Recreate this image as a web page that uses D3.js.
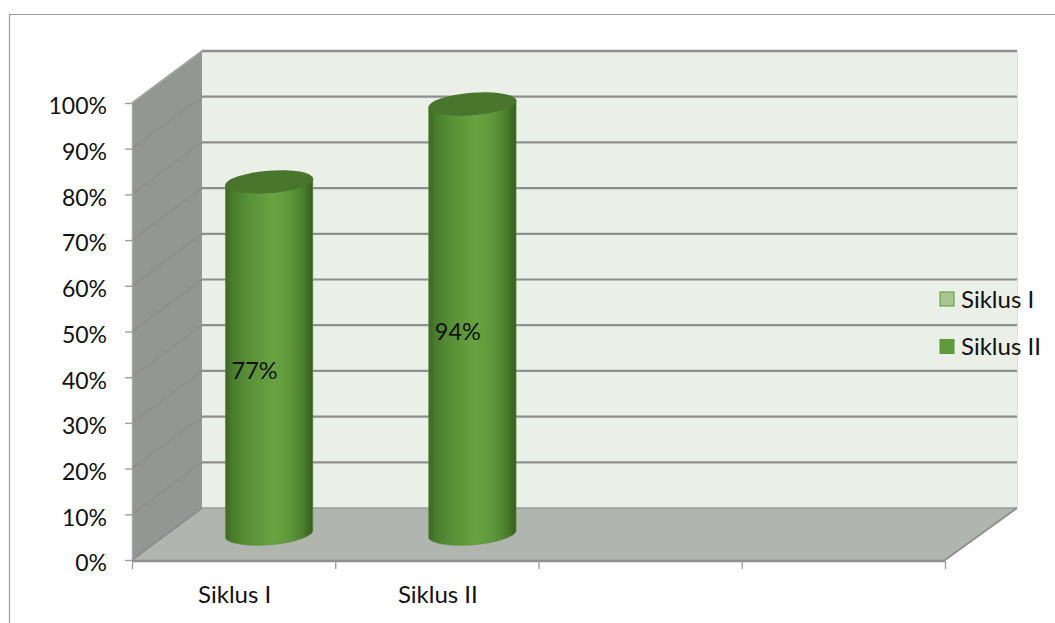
<!DOCTYPE html>
<html><head><meta charset="utf-8">
<script src="https://cdn.jsdelivr.net/npm/d3@7/dist/d3.min.js"></script>
<style>html,body{margin:0;padding:0;background:#fff}svg{display:block}text{font-family:Lato,"Open Sans",sans-serif;fill:#111}</style>
</head><body><svg id="c" width="1055" height="623"></svg>
<script>
const categories = ["Siklus I", "Siklus II", "", ""];
const seriesNames = ["Siklus I", "Siklus II"];
const barCategories = ["Siklus I", "Siklus II"];
const barValues = [77, 94];
const barLabels = ["77%", "94%"];
const yTicks = [0,10,20,30,40,50,60,70,80,90,100];

const svg = d3.select("#c");
const W = {x0:132, x1:945, y0:560, y1:103, dx:70, dy:-52};
const y = d3.scaleLinear().domain([0,100]).range([W.y0, W.y1]);
const x = d3.scaleBand().domain(d3.range(categories.length)).range([W.x0, W.x1]);
const yBar = d3.scaleLinear().domain([0,100]).range([W.y0 + W.dy/2 + 1, W.y1 + W.dy/2 - 0.5]);
const poly = p => "M" + p.map(q => q.join(",")).join("L") + "Z";

const defs = svg.append("defs");
const grad = defs.append("linearGradient").attr("id","cyl").attr("x1",0).attr("x2",1).attr("y1",0).attr("y2",0);
[[0,"#3c6724"],[0.08,"#4a7d2d"],[0.25,"#588f37"],[0.55,"#68a341"],[0.75,"#5d963a"],[0.9,"#4a7a2d"],[1,"#365d20"]]
  .forEach(s => grad.append("stop").attr("offset",s[0]).attr("stop-color",s[1]));

// frame
svg.append("path").attr("d","M9.5,623V14.5H1055").attr("fill","none").attr("stroke","#9a9a9a").attr("stroke-width",1.2);

// walls
svg.append("path").attr("d",poly([[W.x0+W.dx,W.y1+W.dy],[W.x1+W.dx+2,W.y1+W.dy],[W.x1+W.dx+2,W.y0+W.dy],[W.x0+W.dx,W.y0+W.dy]])).attr("fill","#eaefe8");
svg.append("path").attr("d",`M${W.x1+W.dx+2.5},${W.y1+W.dy}V${W.y0+W.dy}`).attr("stroke","#dfe3dd").attr("fill","none");
svg.append("path").attr("d",poly([[W.x0,W.y1],[W.x0+W.dx,W.y1+W.dy],[W.x0+W.dx,W.y0+W.dy],[W.x0,W.y0]])).attr("fill","#939793");
svg.append("path").attr("d",poly([[W.x0,W.y0],[W.x0+W.dx,W.y0+W.dy],[W.x1+W.dx+2,W.y0+W.dy],[W.x1,W.y0]])).attr("fill","#b1b5b0");

// gridlines
yTicks.forEach(t => {
  const yy = y(t);
  if (t > 0) svg.append("path").attr("d",`M${W.x0+W.dx},${yy+W.dy}H${W.x1+W.dx+2}`).attr("stroke","#8f908e").attr("stroke-width",t===100?2.4:2.2).attr("fill","none");
  svg.append("path").attr("d",`M${W.x0},${yy}L${W.x0+W.dx},${yy+W.dy}`).attr("stroke",t===100?"#a0a3a0":"#8a8d8a").attr("stroke-width",1.6).attr("fill","none");
});
svg.append("path").attr("d",`M${W.x0+W.dx},${W.y0+W.dy}H${W.x1+W.dx+2}`).attr("stroke","#9a9c99").attr("stroke-width",1.6);
svg.append("path").attr("d",`M${W.x1},${W.y0}L${W.x1+W.dx+2},${W.y0+W.dy}`).attr("stroke","#8f908e").attr("stroke-width",2);
svg.append("path").attr("d",`M${W.x0+.5},${W.y1}V${W.y0}`).attr("stroke","#a3a6a3").attr("stroke-width",1.4);
svg.append("path").attr("d",`M${W.x0},${W.y0+1}H${W.x1}`).attr("stroke","#8f908e").attr("stroke-width",2.6);

// axes
const yAxis = d3.axisLeft(y).tickValues(yTicks).tickFormat(d => d + "%").tickSize(7).tickPadding(18);
const gy = svg.append("g").attr("transform",`translate(${W.x0},0)`).call(yAxis);
gy.select(".domain").remove();
gy.selectAll("line").attr("stroke","#a0a0a0").attr("stroke-width",1.4);
gy.selectAll("text").attr("font-size",23).attr("dy","0.47em").attr("x",-25);

const gridTicks = d3.range(categories.length + 1);
svg.selectAll("line.xt").data(gridTicks).join("line").attr("class","xt")
  .attr("x1",i => W.x0 + i*x.step() + .5).attr("x2",i => W.x0 + i*x.step() + .5)
  .attr("y1",W.y0+1).attr("y2",W.y0+9).attr("stroke","#9a9a9a").attr("stroke-width",1.3);
svg.selectAll("text.xl").data(categories.filter(c => c)).join("text").attr("class","xl")
  .attr("x",(d,i) => x(i)+x.bandwidth()/2+1).attr("y",603).attr("text-anchor","middle").attr("font-size",24).text(d => d);

// cylinders
const rx = 44.2, ry = 11.2, rot = -4.5, tiltY = 3.6, half = 43.7;
barValues.forEach((v,i) => {
  const cx = x(i) + x.bandwidth()/2 + W.dx/2 + 0.5;
  const top = yBar(v), bot = yBar(0);
  const arc = `A${rx},${ry} ${rot} 0 0`;
  svg.append("path").attr("fill","url(#cyl)").attr("stroke","#5a9038").attr("stroke-width",0.6).attr("d",
    `M${cx-half},${top+tiltY}L${cx-half},${bot+tiltY}${arc} ${cx+half},${bot-tiltY}L${cx+half},${top-tiltY}${arc} ${cx-half},${top+tiltY}Z`);
  svg.append("ellipse").attr("cx",0).attr("cy",0).attr("rx",rx).attr("ry",ry)
    .attr("transform",`translate(${cx},${top}) rotate(${rot})`).attr("fill","#4a752c");
  svg.append("text").attr("x",x(i)+x.bandwidth()/2+21).attr("y",yBar(v/2)+12).attr("dy","0.36em")
    .attr("text-anchor","middle").attr("font-size",23.5).text(barLabels[i]);
});

// legend
const ly = d3.scalePoint().domain(seriesNames).range([299,346.5]);
const legendFill = ["#a6c78f","#5f9a3b"];
seriesNames.forEach((n,i) => {
  svg.append("rect").attr("x",940).attr("y",ly(n)-7).attr("width",14).attr("height",14)
    .attr("fill",legendFill[i]).attr("stroke","#5f9439").attr("stroke-width",1);
  svg.append("text").attr("x",961).attr("y",ly(n)).attr("dy","0.36em").attr("font-size",24).text(n);
});
</script></body></html>
